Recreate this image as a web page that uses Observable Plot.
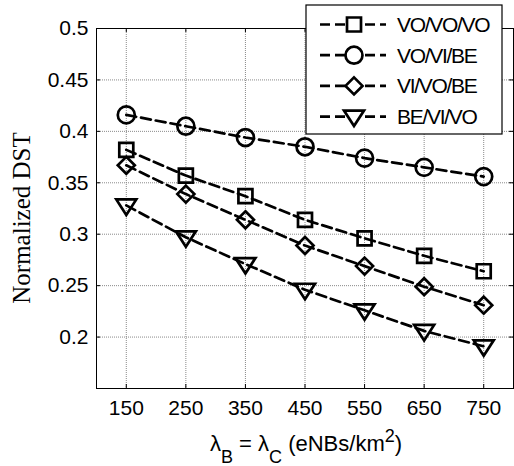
<!DOCTYPE html>
<html><head><meta charset="utf-8">
<script src="https://cdn.jsdelivr.net/npm/d3@7"></script>
<script src="https://cdn.jsdelivr.net/npm/@observablehq/plot@0.6"></script>
<style>body{margin:0;background:#fff}#chart{position:relative;width:514px;height:466px}</style>
</head><body><div id="chart"></div>
<script>
const xValues = [150, 250, 350, 450, 550, 650, 750];
const seriesNames = ["VO/VO/VO", "VO/VI/BE", "VI/VO/BE", "BE/VI/VO"];
const seriesVoVoVo = [0.382, 0.357, 0.337, 0.314, 0.296, 0.279, 0.264];
const seriesVoViBe = [0.416, 0.405, 0.394, 0.385, 0.374, 0.365, 0.356];
const seriesViVoBe = [0.367, 0.339, 0.314, 0.289, 0.269, 0.249, 0.231];
const seriesBeViVo = [0.328, 0.297, 0.271, 0.246, 0.226, 0.206, 0.191];
const xTicks = [150, 250, 350, 450, 550, 650, 750];
const yTicks = [0.2, 0.25, 0.3, 0.35, 0.4, 0.45, 0.5];
const yTickLabels = ["0.2", "0.25", "0.3", "0.35", "0.4", "0.45", "0.5"];

function makeSymbol(kind) {
  return {draw(ctx, size) {
    const r = Math.sqrt(size / Math.PI);
    if (kind === "square") {
      ctx.moveTo(-r, -r); ctx.lineTo(r, -r); ctx.lineTo(r, r); ctx.lineTo(-r, r); ctx.closePath();
    } else if (kind === "circle") {
      ctx.moveTo(r, 0); ctx.arc(0, 0, r, 0, 2 * Math.PI);
    } else if (kind === "diamond") {
      ctx.moveTo(0, -r); ctx.lineTo(r, 0); ctx.lineTo(0, r); ctx.lineTo(-r, 0); ctx.closePath();
    } else {
      ctx.moveTo(-r, -0.6 * r); ctx.lineTo(r, -0.6 * r); ctx.lineTo(0, 0.95 * r); ctx.closePath();
    }
  }};
}
const kinds = ["square", "circle", "diamond", "triangle"];
const radii = [7, 8.5, 8.5, 10];
const allSeries = [seriesVoVoVo, seriesVoViBe, seriesViVoBe, seriesBeViVo];
const tables = allSeries.map((vals, i) => xValues.map((x, j) => ({x, y: vals[j], s: seriesNames[i]})));

const marks = [
  Plot.gridX(xTicks, {stroke: "#8a8a8a", strokeOpacity: 1, strokeDasharray: "1,1"}),
  Plot.gridY(yTicks, {stroke: "#8a8a8a", strokeOpacity: 1, strokeDasharray: "1,1"}),
  Plot.ruleX(xTicks, {x: d => d, insetTop: 356, stroke: "black"}),
  Plot.ruleX(xTicks, {x: d => d, insetBottom: 356, stroke: "black"}),
  Plot.ruleY(yTicks, {y: d => d, insetRight: 413, stroke: "black"}),
  Plot.ruleY(yTicks, {y: d => d, insetLeft: 413, stroke: "black"}),
  Plot.frame({stroke: "black", strokeWidth: 1}),
  Plot.axisX(xTicks, {tickSize: 0, tickPadding: 12, tickFormat: d => String(d), label: null}),
  Plot.axisY(yTicks, {tickSize: 0, tickPadding: 8, tickFormat: d => yTickLabels[yTicks.indexOf(d)], label: null})
];
tables.forEach((t, i) => {
  marks.push(Plot.line(t, {x: "x", y: "y", stroke: "black", strokeWidth: 2.7, strokeDasharray: "10,5"}));
  marks.push(Plot.dot(t, {x: "x", y: "y", symbol: makeSymbol(kinds[i]), r: radii[i], stroke: "black", strokeWidth: 2.7, fill: "none"}));
});

const chart = Plot.plot({
  width: 514, height: 466,
  marginLeft: 96, marginRight: 1, marginTop: 28, marginBottom: 78,
  x: {domain: [100, 800]},
  y: {domain: [0.15, 0.5]},
  style: {fontFamily: "'Liberation Sans', Arial, sans-serif", fontSize: "21px", color: "black", background: "white"},
  marks
});
document.getElementById("chart").appendChild(chart);

const svg = d3.select(chart);
// y-axis label
svg.append("text").attr("transform", "translate(30,218) rotate(-90)").attr("text-anchor", "middle")
  .attr("font-family", "'Liberation Serif','Times New Roman',serif").attr("font-size", 25)
  .attr("fill", "black").text("Normalized DST");
// x-axis label with subscripts
const t = svg.append("text").attr("x", 306).attr("y", 451).attr("text-anchor", "middle")
  .attr("font-size", 22).attr("fill", "black").style("white-space", "pre");
t.append("tspan").text("λ");
t.append("tspan").attr("font-size", 18).attr("dy", 12).text("B");
t.append("tspan").attr("dy", -12).text(" = λ");
t.append("tspan").attr("font-size", 18).attr("dy", 12).text("C");
t.append("tspan").attr("dy", -12).text(" (eNBs/km");
t.append("tspan").attr("font-size", 18).attr("dy", -9).text("2");
t.append("tspan").attr("dy", 9).text(")");

// legend
const lg = svg.append("g");
lg.append("rect").attr("x", 306).attr("y", 5).attr("width", 196).attr("height", 129)
  .attr("fill", "white").attr("stroke", "black").attr("stroke-width", 1.2);
seriesNames.forEach((name, i) => {
  const cy = 24.5 + 30.7 * i;
  lg.append("line").attr("x1", 320).attr("x2", 386).attr("y1", cy).attr("y2", cy)
    .attr("stroke", "black").attr("stroke-width", 2.7).attr("stroke-dasharray", "10,5");
  const p = d3.path();
  makeSymbol(kinds[i]).draw(p, Math.PI * radii[i] * radii[i]);
  lg.append("path").attr("d", p.toString()).attr("transform", `translate(354,${cy})`)
    .attr("fill", "white").attr("stroke", "black").attr("stroke-width", 2.7);
  lg.append("text").attr("x", 397).attr("y", cy + 7.5).attr("text-anchor", "start")
    .attr("font-size", 21).attr("letter-spacing", -1.3).attr("fill", "black").text(name);
});
</script>
</body></html>
